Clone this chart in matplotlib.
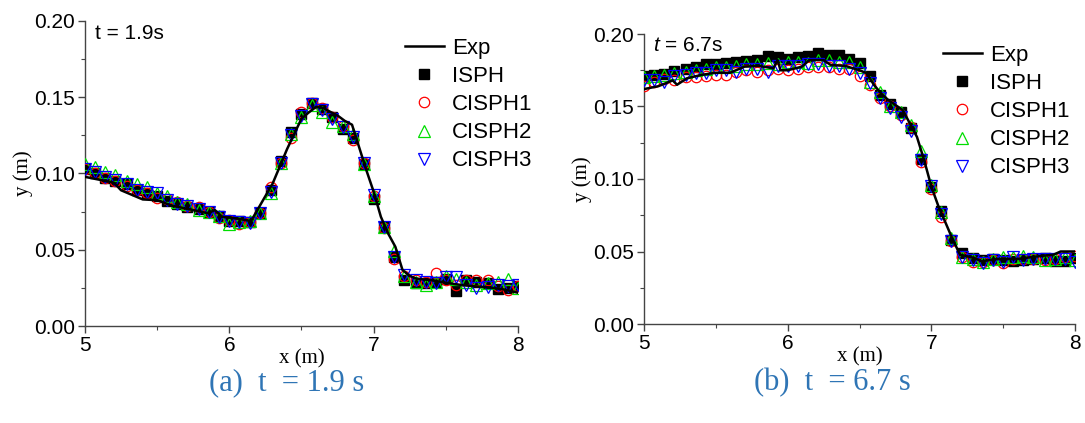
import numpy as np
import matplotlib
matplotlib.use('Agg')
import matplotlib.pyplot as plt
from matplotlib.ticker import MultipleLocator, FormatStrFormatter
from matplotlib.lines import Line2D

plt.rcParams['font.family'] = 'Liberation Sans'
plt.rcParams['mathtext.fontset'] = 'custom'
plt.rcParams['mathtext.it'] = 'Liberation Sans:italic'
plt.rcParams['mathtext.rm'] = 'Liberation Sans'

# marker x positions (same for both panels)
x_pts = [5.00, 5.07, 5.14, 5.21, 5.29, 5.36, 5.43, 5.50, 5.57, 5.64, 5.71,
         5.79, 5.86, 5.93, 6.00, 6.07, 6.14, 6.21, 6.29, 6.36, 6.43, 6.50,
         6.57, 6.64, 6.71, 6.79, 6.86, 6.93, 7.00, 7.07, 7.14, 7.21, 7.29,
         7.36, 7.43, 7.50, 7.57, 7.64, 7.71, 7.79, 7.86, 7.93, 8.00]

# (a) t = 1.9 s
exp_x_a = [5.00, 5.20, 5.25, 5.40, 5.50, 5.60, 5.75, 5.85, 5.90, 5.95, 6.05,
           6.15, 6.20, 6.30, 6.40, 6.45, 6.50, 6.55, 6.60, 6.65, 6.70, 6.75,
           6.80, 6.85, 6.90, 6.95, 7.00, 7.05, 7.10, 7.15, 7.20, 7.25, 7.30,
           7.40, 7.50, 7.60, 7.70, 7.80, 7.90, 8.00]
exp_y_a = [0.0978, 0.094, 0.089, 0.083, 0.0825, 0.079, 0.076, 0.074, 0.076,
           0.0716, 0.0705, 0.0688, 0.077, 0.0934, 0.116, 0.126, 0.136, 0.140,
           0.1437, 0.143, 0.1404, 0.138, 0.1345, 0.132, 0.117, 0.102, 0.088,
           0.0716, 0.0607, 0.052, 0.0367, 0.0328, 0.031, 0.030, 0.0284, 0.027,
           0.026, 0.0253, 0.024, 0.0218]
isph_a = [0.103, 0.100, 0.097, 0.095, 0.093, 0.089, 0.087, 0.085, 0.082, 0.080,
          0.078, 0.077, 0.075, 0.072, 0.069, 0.069, 0.068, 0.074, 0.089, 0.108,
          0.127, 0.139, 0.146, 0.142, 0.137, 0.129, 0.123, 0.106, 0.083, 0.065,
          0.045, 0.030, 0.028, 0.028, 0.029, 0.031, 0.023, 0.030, 0.029, 0.028,
          0.024, 0.025, 0.026]
cisph1_a = [0.103, 0.100, 0.097, 0.095, 0.092, 0.089, 0.087, 0.084, 0.083, 0.081,
            0.079, 0.078, 0.075, 0.071, 0.0695, 0.067, 0.068, 0.074, 0.091, 0.107,
            0.123, 0.140, 0.146, 0.143, 0.137, 0.131, 0.122, 0.107, 0.085, 0.064,
            0.044, 0.033, 0.030, 0.029, 0.0345, 0.030, 0.027, 0.030, 0.030, 0.030,
            0.026, 0.0236, 0.026]
cisph2_a = [0.106, 0.104, 0.101, 0.099, 0.095, 0.093, 0.091, 0.087, 0.085, 0.081,
            0.080, 0.076, 0.075, 0.072, 0.067, 0.068, 0.069, 0.074, 0.087, 0.107,
            0.126, 0.137, 0.145, 0.140, 0.134, 0.131, 0.126, 0.106, 0.085, 0.065,
            0.049, 0.033, 0.029, 0.027, 0.029, 0.033, 0.031, 0.029, 0.027, 0.028,
            0.029, 0.031, 0.025]
cisph3_a = [0.103, 0.101, 0.098, 0.0956, 0.0934, 0.089, 0.088, 0.087, 0.0825,
            0.080, 0.079, 0.077, 0.075, 0.0716, 0.069, 0.068, 0.0677, 0.074,
            0.088, 0.1066, 0.125, 0.138, 0.1459, 0.1415, 0.136, 0.1306, 0.124,
            0.1066, 0.0858, 0.065, 0.0454, 0.0334, 0.030, 0.029, 0.028, 0.0323,
            0.0323, 0.027, 0.0247, 0.0258, 0.027, 0.026, 0.027]

# (b) t = 6.7 s
exp_x_b = [5.00, 5.10, 5.20, 5.23, 5.30, 5.40, 5.50, 5.60, 5.70, 5.80, 5.90,
           5.93, 5.95, 6.00, 6.10, 6.15, 6.25, 6.30, 6.40, 6.50, 6.55, 6.60,
           6.65, 6.70, 6.80, 6.85, 6.90, 6.95, 7.00, 7.05, 7.10, 7.15, 7.20,
           7.30, 7.35, 7.45, 7.60, 7.70, 7.85, 7.90, 8.00]
exp_y_b = [0.162, 0.164, 0.168, 0.165, 0.1695, 0.1718, 0.1733, 0.1733, 0.1775,
           0.178, 0.1763, 0.182, 0.175, 0.175, 0.1775, 0.182, 0.182, 0.1786,
           0.178, 0.175, 0.173, 0.165, 0.159, 0.1545, 0.1476, 0.1385, 0.129,
           0.113, 0.0948, 0.081, 0.0696, 0.058, 0.0478, 0.0455, 0.0432, 0.0448,
           0.0448, 0.0462, 0.0478, 0.050, 0.050]
isph_b = [0.171, 0.172, 0.1725, 0.1745, 0.176, 0.1775, 0.179, 0.179, 0.180, 0.181,
          0.1815, 0.182, 0.185, 0.184, 0.1825, 0.184, 0.185, 0.187, 0.1855, 0.1855,
          0.1825, 0.180, 0.171, 0.158, 0.152, 0.146, 0.135, 0.1137, 0.0948, 0.0776,
          0.058, 0.049, 0.0455, 0.0443, 0.0448, 0.0443, 0.0432, 0.0443, 0.0448,
          0.0455, 0.0432, 0.0432, 0.0455]
cisph1_b = [0.164, 0.167, 0.169, 0.168, 0.170, 0.170, 0.171, 0.172, 0.172, 0.174,
            0.175, 0.174, 0.175, 0.176, 0.175, 0.176, 0.177, 0.177, 0.177, 0.176,
            0.176, 0.171, 0.165, 0.156, 0.150, 0.144, 0.136, 0.112, 0.093, 0.074,
            0.057, 0.046, 0.043, 0.043, 0.044, 0.042, 0.045, 0.045, 0.045, 0.044,
            0.045, 0.046, 0.047]
cisph2_b = [0.170, 0.171, 0.172, 0.173, 0.174, 0.175, 0.176, 0.177, 0.177, 0.178,
            0.179, 0.179, 0.180, 0.179, 0.181, 0.181, 0.180, 0.182, 0.182, 0.181,
            0.181, 0.177, 0.167, 0.160, 0.150, 0.146, 0.137, 0.119, 0.096, 0.077,
            0.059, 0.046, 0.045, 0.043, 0.045, 0.046, 0.046, 0.047, 0.046, 0.044,
            0.045, 0.046, 0.044]
cisph3_b = [0.168, 0.168, 0.167, 0.171, 0.172, 0.173, 0.173, 0.175, 0.175, 0.174,
            0.176, 0.176, 0.174, 0.178, 0.178, 0.178, 0.179, 0.179, 0.178, 0.178,
            0.176, 0.173, 0.166, 0.156, 0.149, 0.143, 0.133, 0.113, 0.095, 0.076,
            0.057, 0.046, 0.044, 0.042, 0.044, 0.043, 0.046, 0.044, 0.045, 0.045,
            0.045, 0.045, 0.043]

W, H = 1085, 423
fig = plt.figure(figsize=(W / 100, H / 100), dpi=100)

def draw(ax, ex, ey, isph, c1, c2, c3, tlabel, leg_anchor):
    ax.plot(x_pts, isph, ls='none', marker='s', ms=6.5, mfc='black', mec='black', zorder=3)
    ax.plot(x_pts, c1, ls='none', marker='o', ms=7.5, mfc='none', mec='red', mew=0.9, zorder=3)
    ax.plot(x_pts, c2, ls='none', marker='^', ms=8, mfc='none', mec='#00dd00', mew=0.9, zorder=3)
    ax.plot(x_pts, c3, ls='none', marker='v', ms=8, mfc='none', mec='blue', mew=0.9, zorder=3)
    ax.plot(ex, ey, color='black', lw=1.8, zorder=4)

    ax.set_xlim(5, 8)
    ax.set_ylim(0, 0.2)
    ax.xaxis.set_major_locator(MultipleLocator(1))
    ax.xaxis.set_minor_locator(MultipleLocator(0.5))
    ax.yaxis.set_major_locator(MultipleLocator(0.05))
    ax.yaxis.set_minor_locator(MultipleLocator(0.025))
    ax.yaxis.set_major_formatter(FormatStrFormatter('%.2f'))
    for s in ['top', 'right']:
        ax.spines[s].set_visible(False)
    for s in ['left', 'bottom']:
        ax.spines[s].set_color('#444444')
        ax.spines[s].set_linewidth(1.0)
    ax.tick_params(which='major', direction='out', length=5, width=1.0,
                   color='#444444', labelsize=15, pad=2)
    ax.tick_params(which='minor', direction='out', length=3, width=0.8, color='#444444')
    ax.set_xlabel('x (m)', family='Liberation Serif', fontsize=15, labelpad=-4)
    ax.set_ylabel('y (m)', family='Liberation Serif', fontsize=15, labelpad=1)
    ax.text(0.022, 0.96, tlabel, transform=ax.transAxes, fontsize=15, va='center', ha='left')

    handles = [
        Line2D([], [], color='black', lw=1.8),
        Line2D([], [], ls='none', marker='s', ms=6.5, mfc='black', mec='black'),
        Line2D([], [], ls='none', marker='o', ms=7.5, mfc='none', mec='red', mew=0.9),
        Line2D([], [], ls='none', marker='^', ms=8, mfc='none', mec='#00dd00', mew=0.9),
        Line2D([], [], ls='none', marker='v', ms=8, mfc='none', mec='blue', mew=0.9),
    ]
    ax.legend(handles, ['Exp', 'ISPH', 'CISPH1', 'CISPH2', 'CISPH3'],
              loc='upper left', bbox_to_anchor=leg_anchor, bbox_transform=fig.transFigure,
              frameon=False, fontsize=16, handlelength=1.75, handletextpad=0.35,
              labelspacing=0.32, borderpad=0, borderaxespad=0)

ax1 = fig.add_axes([85 / W, 1 - 326 / H, 433 / W, 305 / H])
draw(ax1, exp_x_a, exp_y_a, isph_a, cisph1_a, cisph2_a, cisph3_a, 't = 1.9s',
     (405 / W, 1 - 38 / H))

ax2 = fig.add_axes([644 / W, 1 - 324 / H, 431 / W, 290 / H])
draw(ax2, exp_x_b, exp_y_b, isph_b, cisph1_b, cisph2_b, cisph3_b, '$t$ = 6.7s',
     (943 / W, 1 - 45 / H))

cap_color = '#2f75b5'
fig.text(287 / W, 1 - 383 / H, '(a)  t  = 1.9 s', family='Liberation Serif',
         fontsize=22, color=cap_color, ha='center', va='center')
fig.text(832 / W, 1 - 383 / H, '(b)  t  = 6.7 s', family='Liberation Serif',
         fontsize=22, color=cap_color, ha='center', va='center')

fig.savefig('out.png', dpi=100)
